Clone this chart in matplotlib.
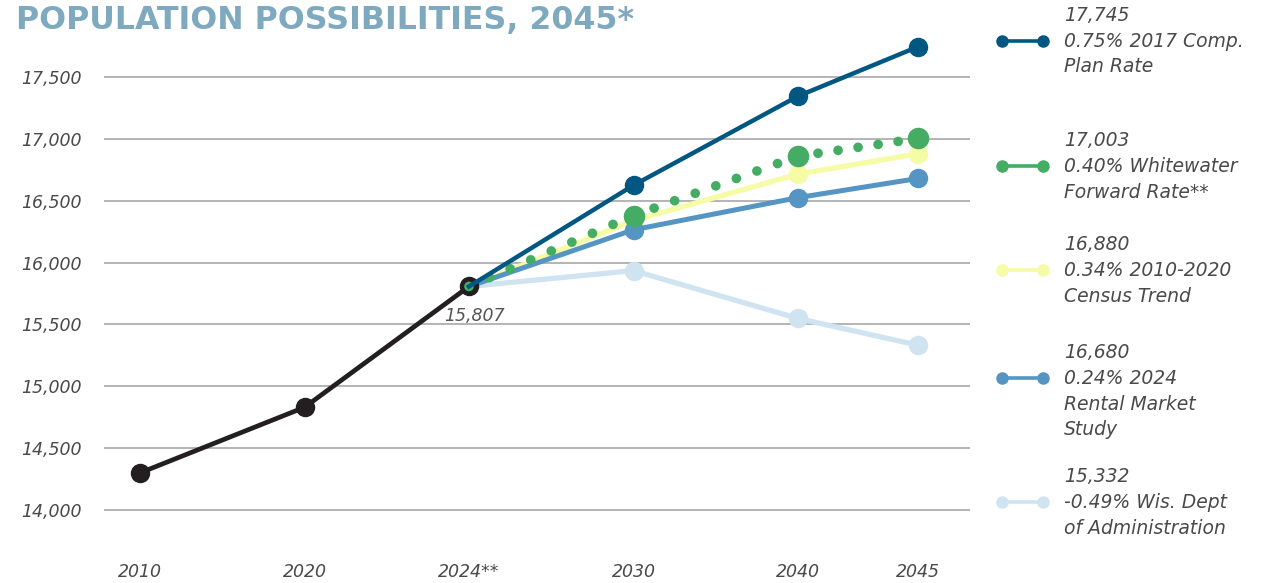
import matplotlib.pyplot as plt
import numpy as np
from matplotlib.lines import Line2D
from matplotlib.ticker import FuncFormatter

# x axis categories (2045 sits closer to 2040 in the original)
years = ['2010', '2020', '2024**', '2030', '2040', '2045']
x_pos = [0, 1, 2, 3, 4, 4.73]
xmap = dict(zip(years, x_pos))

hist_years = ['2010', '2020', '2024**']
hist_values = [14300, 14830, 15807]

proj_years = ['2024**', '2030', '2040', '2045']
comp_plan = [15807, 16625, 17345, 17745]
whitewater = [15807, 16380, 16860, 17003]
census = [15807, 16340, 16715, 16880]
rental = [15807, 16265, 16525, 16680]
wis_doa = [15807, 15935, 15548, 15332]

legend_labels = [
    '17,745\n0.75% 2017 Comp.\nPlan Rate',
    '17,003\n0.40% Whitewater\nForward Rate**',
    '16,880\n0.34% 2010-2020\nCensus Trend',
    '16,680\n0.24% 2024\nRental Market\nStudy',
    '15,332\n-0.49% Wis. Dept\nof Administration',
]

yticks = [14000, 14500, 15000, 15500, 16000, 16500, 17000, 17500]

c_dark = '#005782'
c_green = '#45AD63'
c_yellow = '#F6FBA6'
c_blue = '#5595C3'
c_light = '#D0E3F1'
c_black = '#231F20'
c_title = '#7EA9BF'
c_text = '#4A4A4A'

plt.rcParams['font.family'] = ['DejaVu Sans']

W, H = 1269, 583
fig = plt.figure(figsize=(W / 100, H / 100), dpi=100)
ax = fig.add_axes([104 / W, 1 - 530 / H, (970 - 104) / W, 490 / H])
ax.set_xlim(-36 / 164.5, 830 / 164.5)
ax.set_ylim(14000 - 20 / 0.1237, 17500 + 37 / 0.1237)

px = [xmap[y] for y in proj_years]

ax.plot(px, wis_doa, color=c_light, lw=3.8, marker='o', ms=13,
        markevery=[1, 2, 3], zorder=2, clip_on=False)
ax.plot(px, census, color=c_yellow, lw=3.8, marker='o', ms=13,
        markevery=[1, 2, 3], zorder=3, clip_on=False)
ax.plot(px, rental, color=c_blue, lw=3.6, marker='o', ms=13,
        markevery=[1, 2, 3], zorder=4, clip_on=False)
ax.plot([xmap[y] for y in hist_years], hist_values, color=c_black, lw=3.4,
        marker='o', ms=13, zorder=5, clip_on=False)

# dotted green line: evenly spaced round dots on each segment + big markers
dot_lw = 7.0
pts = ax.transData.transform(np.column_stack([px, whitewater]))
for i in range(len(px) - 1):
    seg_len = np.hypot(*(pts[i + 1] - pts[i]))
    n = max(1, round(seg_len / 22))
    gap = (seg_len / n) / (dot_lw * fig.dpi / 72)
    ax.plot(px[i:i + 2], whitewater[i:i + 2], color=c_green, lw=dot_lw,
            linestyle=(0, (0.001, gap)), dash_capstyle='round', zorder=6,
            clip_on=False)
ax.plot(px[1:], whitewater[1:], color=c_green, lw=0, marker='o', ms=14.5,
        zorder=6, clip_on=False)
ax.plot(px, comp_plan, color=c_dark, lw=3.2, marker='o', ms=13,
        markevery=[1, 2, 3], zorder=7, clip_on=False)

ax.annotate('15,807', (xmap['2024**'], hist_values[2]), xytext=(4, -21),
            textcoords='offset points', ha='center', va='center',
            fontsize=12.5, style='italic', color='#555555')

ax.set_xticks(x_pos)
ax.set_xticklabels(years)
ax.set_yticks(yticks)
ax.yaxis.set_major_formatter(FuncFormatter(lambda v, p: f'{v:,.0f}'))
ax.tick_params(length=0, labelsize=12.5, labelcolor=c_text)
ax.tick_params(axis='x', pad=24)
ax.tick_params(axis='y', pad=16)
for lab in ax.get_xticklabels() + ax.get_yticklabels():
    lab.set_fontstyle('italic')
ax.grid(axis='y', color='#A0A0A0', lw=1.1)
ax.set_axisbelow(True)
for s in ax.spines.values():
    s.set_visible(False)

# overlay in pixel coordinates for title and legend
ov = fig.add_axes([0, 0, 1, 1], facecolor='none')
ov.set_xlim(0, W)
ov.set_ylim(H, 0)
ov.axis('off')

ov.text(16, 20, 'POPULATION POSSIBILITIES, 2045*', fontsize=22.8,
        fontweight='bold', color=c_title, va='center', ha='left')

leg_colors = [c_dark, c_green, c_yellow, c_blue, c_light]
leg_top = [16, 141, 245, 353, 477]
for col, top, lab in zip(leg_colors, leg_top, legend_labels):
    ov.add_line(Line2D([1002, 1043], [top + 25, top + 25], color=col, lw=2.6,
                       marker='o', ms=8))
    ov.text(1064, top - 10, lab, fontsize=13.5, style='italic',
            color=c_text, va='top', ha='left', linespacing=1.45)

fig.savefig('out.png', dpi=100)
